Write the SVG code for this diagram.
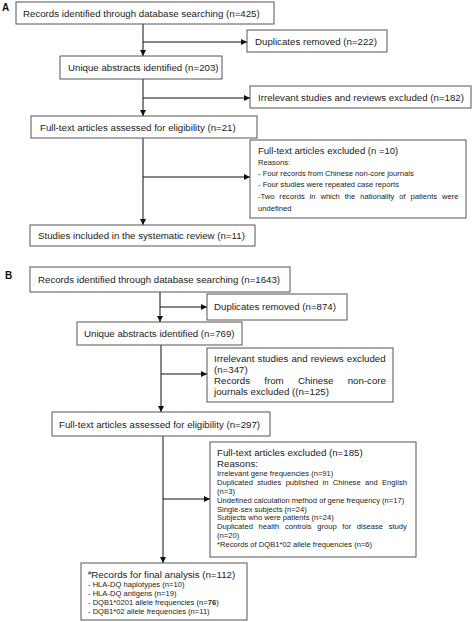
<svg xmlns="http://www.w3.org/2000/svg" width="474" height="622" viewBox="0 0 474 622">
<defs>
<marker id="ah" viewBox="0 0 6 6" refX="6" refY="3" markerWidth="6" markerHeight="6" markerUnits="userSpaceOnUse" orient="auto">
<path d="M0,0 L6,3 L0,6 Z" fill="#111"/>
</marker>
</defs>
<style>
text{font-family:"Liberation Sans",Arial,sans-serif;fill:#222;}
.t{font-size:9.7px;}
.s{font-size:7.6px;}
.lbl{font-size:10px;font-weight:bold;fill:#111;}
rect{fill:#fff;stroke:#555;stroke-width:1;}
.c line{stroke:#111;stroke-width:1;fill:none;}
</style>
<rect x="0" y="0" width="474" height="622" style="fill:#fff;stroke:none"/>
<text class="lbl" x="2" y="11">A</text>
<text class="lbl" x="5" y="279">B</text>

<g class="c" id="connectors">
<line x1="143" y1="24" x2="143" y2="56" marker-end="url(#ah)"/>
<line x1="143" y1="42" x2="247" y2="42" marker-end="url(#ah)"/>
<line x1="143" y1="79" x2="143" y2="116" marker-end="url(#ah)"/>
<line x1="143" y1="98" x2="250" y2="98" marker-end="url(#ah)"/>
<line x1="143" y1="138" x2="143" y2="225" marker-end="url(#ah)"/>
<line x1="143" y1="177" x2="250" y2="177" marker-end="url(#ah)"/>

<line x1="160" y1="292" x2="160" y2="322" marker-end="url(#ah)"/>
<line x1="160" y1="307" x2="207" y2="307" marker-end="url(#ah)"/>
<line x1="161" y1="345" x2="161" y2="412" marker-end="url(#ah)"/>
<line x1="161" y1="374" x2="207" y2="374" marker-end="url(#ah)"/>
<line x1="163" y1="436" x2="163" y2="563" marker-end="url(#ah)"/>
<line x1="163" y1="499" x2="210" y2="499" marker-end="url(#ah)"/>
</g>

<g id="a1"><rect x="16" y="2" width="258" height="22"/><text class="t" x="23" y="17">Records identified through database searching (n=425)</text></g>
<g id="a2"><rect x="247" y="30" width="140" height="22"/><text class="t" x="255" y="45">Duplicates removed (n=222)</text></g>
<g id="a3"><rect x="60" y="56" width="162" height="23"/><text class="t" x="68" y="71">Unique abstracts identified (n=203)</text></g>
<g id="a4"><rect x="250" y="86" width="221" height="22"/><text class="t" x="258" y="101">Irrelevant studies and reviews excluded (n=182)</text></g>
<g id="a5"><rect x="31" y="116" width="226" height="22"/><text class="t" x="40" y="131">Full-text articles assessed for eligibility (n=21)</text></g>
<g id="a6"><rect x="250" y="140" width="216" height="78"/>
<text x="258" y="154" style="font-size:9.5px">Full-text articles excluded (n =10)</text>
<text class="s" x="258" y="165">Reasons:</text>
<text class="s" x="258" y="176">- Four records from Chinese non-core journals</text>
<text class="s" x="258" y="187">- Four studies were repeated case reports</text>
<text class="s" x="258" y="199" word-spacing="2.8">-Two records in which the nationality of patients were</text>
<text class="s" x="258" y="211">undefined</text>
</g>
<g id="a7"><rect x="30" y="225" width="225" height="21"/><text class="t" x="38" y="239">Studies included in the systematic review (n=11)</text></g>

<g id="b1"><rect x="30" y="267" width="260" height="25"/><text class="t" x="38" y="283">Records identified through database searching (n=1643)</text></g>
<g id="b2"><rect x="207" y="294" width="140" height="26"/><text class="t" x="214" y="310">Duplicates removed (n=874)</text></g>
<g id="b3"><rect x="77" y="322" width="165" height="23"/><text class="t" x="84" y="337">Unique abstracts identified (n=769)</text></g>
<g id="b4"><rect x="207" y="348" width="186" height="54"/>
<text class="t" x="214" y="362" word-spacing="0.5">Irrelevant studies and reviews excluded</text>
<text class="t" x="214" y="373">(n=347)</text>
<text class="t" y="384"><tspan x="214">Records</tspan><tspan x="264.3">from</tspan><tspan x="297.9">Chinese</tspan><tspan x="347.7">non-core</tspan></text>
<text class="t" x="214" y="395">journals excluded ((n=125)</text>
</g>
<g id="b5"><rect x="52" y="412" width="218" height="24"/><text class="t" x="59" y="428">Full-text articles assessed for eligibility (n=297)</text></g>
<g id="b6"><rect x="210" y="442" width="206" height="115"/>
<text class="t" x="217" y="456">Full-text articles excluded (n=185)</text>
<text class="t" x="217" y="467">Reasons:</text>
<text class="s" x="217" y="476">Irrelevant gene frequencies (n=91)</text>
<text class="s" x="217" y="485" word-spacing="2.24">Duplicated studies published in Chinese and English</text>
<text class="s" x="217" y="494">(n=3)</text>
<text class="s" x="217" y="503">Undefined calculation method of gene frequency (n=17)</text>
<text class="s" x="217" y="512">Single-sex subjects (n=24)</text>
<text class="s" x="217" y="520">Subjects who were patients (n=24)</text>
<text class="s" x="217" y="529" word-spacing="3.57">Duplicated health controls group for disease study</text>
<text class="s" x="217" y="538">(n=20)</text>
<text class="s" x="217" y="547">*Records of DQB1*02 allele frequencies (n=6)</text>
</g>
<g id="b7"><rect x="81" y="563" width="166" height="57"/>
<text class="t" x="88" y="578"><tspan style="font-size:6px" dy="-3">#</tspan><tspan dy="3">Records for final analysis (n=112)</tspan></text>
<text class="s" x="88" y="587">- HLA-DQ haplotypes (n=10)</text>
<text class="s" x="88" y="596">- HLA-DQ antigens (n=19)</text>
<text class="s" x="88" y="605">- DQB1*0201 allele frequencies (n=<tspan style="font-weight:bold">76</tspan>)</text>
<text class="s" x="88" y="614">- DQB1*02 allele frequencies (n=11)</text>
</g>
</svg>
